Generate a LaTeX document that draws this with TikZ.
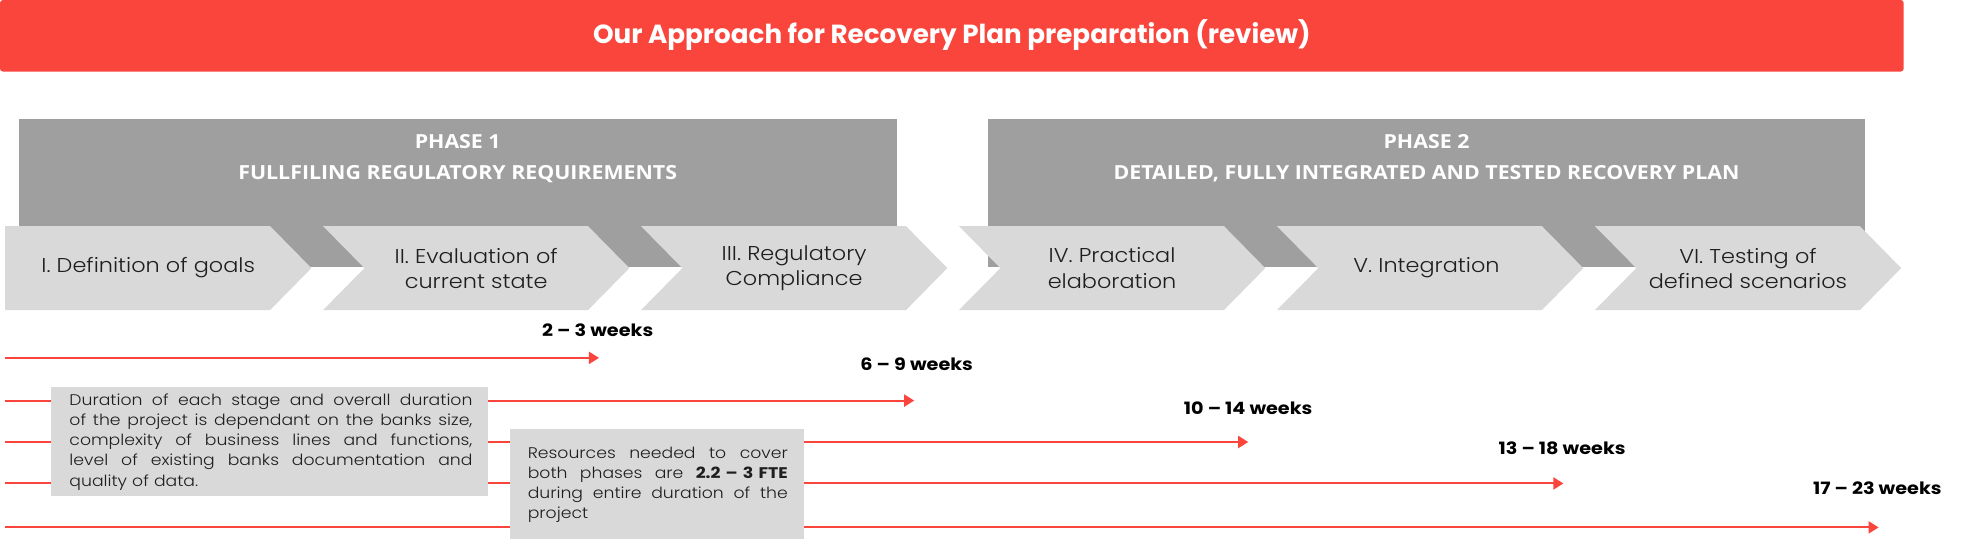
\documentclass[tikz,border=0pt]{standalone}
\usepackage{fontspec}
\setmainfont{Poppins}
\newfontfamily\phasefont{Open Sans}[FakeStretch=1.1]
\IfFontExistsTF{Poppins Light}{\newfontfamily\lightfont{Poppins Light}[FakeStretch=1.12]}{\newfontfamily\lightfont{Poppins}[FakeStretch=1.12]}
\newfontfamily\boldwide{Poppins}[FakeStretch=1.13]
\usetikzlibrary{arrows.meta}
\definecolor{bannerred}{HTML}{FA453D}
\definecolor{phasegray}{HTML}{9F9F9F}
\definecolor{chevgray}{HTML}{D9D9D9}
\definecolor{inktext}{HTML}{1E1E1E}
\newcommand{\jlA}[1]{\hbox to 201.5pt{#1}}
\newcommand{\jlB}[1]{\hbox to 130pt{#1}}
\begin{document}
\begin{tikzpicture}[x=0.62785pt,y=-0.62785pt,
  titletext/.style={text=white,font=\bfseries\fontsize{13.1}{15}\selectfont},
  phasetext/.style={text=white,font=\phasefont\bfseries\fontsize{9.7}{15.5}\selectfont,align=center},
  chevshape/.style={fill=chevgray},
  chevtext/.style={font=\lightfont\fontsize{10}{12.56}\selectfont,align=center,text=inktext},
  weektext/.style={font=\boldwide\bfseries\fontsize{8.5}{10}\selectfont,text=black},
  notebox/.style={fill=chevgray},
  notetext/.style={font=\lightfont\fontsize{7.7}{10.05}\selectfont,inner sep=0pt,anchor=base west,text=inktext},
  durarrow/.style={draw=bannerred,line width=1pt,-{Triangle[length=5pt,width=6pt]}}
  ]
\useasboundingbox (0,0) rectangle (1568,430);
% banner
\fill[bannerred,rounded corners=1.5pt] (0,0) rectangle (1516,57);
\node[titletext] (title) at (758,28) {Our Approach for Recovery Plan preparation (review)};
% phase boxes
\fill[phasegray] (15,95) rectangle (714,213);
\fill[phasegray] (787,95) rectangle (1485,213);
\node[phasetext] (ph1) at (364.5,126) {PHASE 1\\FULLFILING REGULATORY REQUIREMENTS};
\node[phasetext] (ph2) at (1136,126) {PHASE 2\\DETAILED, FULLY INTEGRATED AND TESTED RECOVERY PLAN};
% chevrons
\fill[chevshape] (4,180) -- (215,180) -- (248,213.5) -- (215,247) -- (4,247) -- cycle;
\foreach \k in {1,...,5}{
  \pgfmathsetmacro{\xa}{4+253.2*\k}
  \fill[chevshape] (\xa,180) -- ({\xa+211},180) -- ({\xa+244},213.5) -- ({\xa+211},247) -- (\xa,247) -- ({\xa+33},213.5) -- cycle;
}
\node[chevtext] (c1) at (118,213.5) {I. Definition of goals};
\node[chevtext] (c2) at (379.2,213.5) {II. Evaluation of\\current state};
\node[chevtext] (c3) at (632.4,213.5) {III. Regulatory\\Compliance};
\node[chevtext] (c4) at (885.6,213.5) {IV. Practical\\elaboration};
\node[chevtext] (c5) at (1136,213.5) {V. Integration};
\node[chevtext] (c6) at (1392,213.5) {VI. Testing of\\defined scenarios};
% duration arrows
\coordinate (s1) at (4,285);  \coordinate (e1) at (477,285);
\coordinate (s2) at (4,319);  \coordinate (e2) at (728,319);
\coordinate (s3) at (4,352);  \coordinate (e3) at (994,352);
\coordinate (s4) at (4,385);  \coordinate (e4) at (1245,385);
\coordinate (s5) at (4,420);  \coordinate (e5) at (1496,420);
\draw[durarrow] (s1) -- (e1);
\draw[durarrow] (s2) -- (e2);
\draw[durarrow] (s3) -- (e3);
\draw[durarrow] (s4) -- (e4);
\draw[durarrow] (s5) -- (e5);
\node[weektext] (w1) at (476,263) {2 – 3 weeks};
\node[weektext] (w2) at (730,290) {6 – 9 weeks};
\node[weektext] (w3) at (994,325) {10 – 14 weeks};
\node[weektext] (w4) at (1244,357) {13 – 18 weeks};
\node[weektext] (w5) at (1495,389) {17 – 23 weeks};
% note boxes
\fill[notebox] (41,308) rectangle (389,395);
\fill[notebox] (406,342) rectangle (640,429);
\node[notetext,text width=201.5pt] (n1) at (55,323) {%
\jlA{Duration\hfill of\hfill each\hfill stage\hfill and\hfill overall\hfill duration}
\jlA{of\hfill the\hfill project\hfill is\hfill dependant\hfill on\hfill the\hfill banks\hfill size,}
\jlA{complexity\hfill of\hfill business\hfill lines\hfill and\hfill functions,}
\jlA{level\hfill of\hfill existing\hfill banks\hfill documentation\hfill and}
\jlA{quality of data.\hfill}};
\node[notetext,text width=130pt] (n2) at (420,365) {%
\jlB{Resources\hfill needed\hfill to\hfill cover}
\jlB{both\hfill phases\hfill are\hfill {\boldwide\bfseries 2.2 – 3 FTE}}
\jlB{during\hfill entire\hfill duration\hfill of\hfill the}
\jlB{project\hfill}};
\end{tikzpicture}
\end{document}
